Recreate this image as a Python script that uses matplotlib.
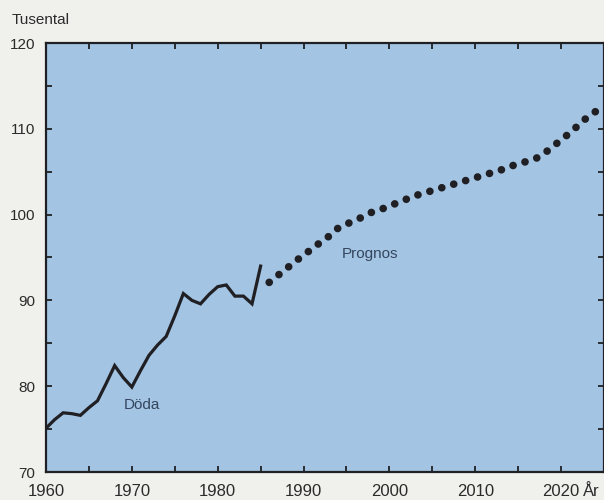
import matplotlib
matplotlib.use('Agg')
import matplotlib.pyplot as plt
from matplotlib.ticker import MultipleLocator

plt.rcParams['font.family'] = ['Liberation Sans', 'DejaVu Sans']

# Döda (tusental), utfall 1960-1985
ar_doda = list(range(1960, 1986))
doda = [75.1, 76.1, 76.9, 76.8, 76.6, 77.5, 78.3, 80.3, 82.4, 81.0,
        79.9, 81.8, 83.6, 84.8, 85.8, 88.2, 90.8, 90.0, 89.6, 90.7,
        91.6, 91.8, 90.5, 90.5, 89.6, 94.0]

# Prognos 1986-2025
ar_prognos = list(range(1986, 2026))
prognos = [92.1, 92.9, 93.7, 94.5, 95.3, 96.0, 96.8, 97.5, 98.4, 98.9,
           99.3, 99.8, 100.3, 100.6, 101.0, 101.4, 101.8, 102.2, 102.5, 102.8,
           103.1, 103.4, 103.7, 104.0, 104.3, 104.6, 104.9, 105.2, 105.6, 105.9,
           106.2, 106.5, 107.1, 107.9, 108.7, 109.5, 110.4, 111.3, 112.0, 112.8]

xticks = [1960, 1970, 1980, 1990, 2000, 2010, 2020]
yticks = [70, 80, 90, 100, 110, 120]

bg = '#f0f0ec'
blue = '#a3c4e2'
ink = '#1f1f24'
txt = '#2b2b2b'
lbl = '#34465e'

fig = plt.figure(figsize=(6.04, 5.0), dpi=100, facecolor=bg)
ax = fig.add_axes([46 / 604, 28 / 500, 558 / 604, 429 / 500])
ax.set_facecolor(blue)

ax.plot(ar_doda, doda, color=ink, lw=2.3, solid_joinstyle='miter')
ax.plot(ar_prognos, prognos, color=ink, lw=5.5,
        linestyle=(0, (0.01, 1.62)), dash_capstyle='round')

ax.set_xlim(1960, 2025)
ax.set_ylim(70, 120)
ax.set_xticks(xticks)
ax.set_yticks(yticks)
ax.xaxis.set_minor_locator(MultipleLocator(5))
ax.yaxis.set_minor_locator(MultipleLocator(5))
ax.tick_params(which='both', direction='in', length=4.5, width=1.3,
               color=ink, top=True, right=True)
ax.tick_params(axis='x', labelsize=12, pad=9, labelcolor=txt)
ax.tick_params(axis='y', labelsize=11, pad=8, labelcolor=txt)
for s in ax.spines.values():
    s.set_color(ink)
    s.set_linewidth(1.6)

ax.text(1969.0, 77.8, 'Döda', fontsize=11, color=lbl, va='center')
ax.text(1994.5, 95.4, 'Prognos', fontsize=11, color=lbl, va='center')

fig.text(12 / 604, 1 - 20 / 500, 'Tusental', fontsize=11, color=txt, va='center')
fig.text(583 / 604, 1 - 492 / 500, 'År', fontsize=12, color=txt, va='center')

fig.savefig('out.png', dpi=100, facecolor=bg)
